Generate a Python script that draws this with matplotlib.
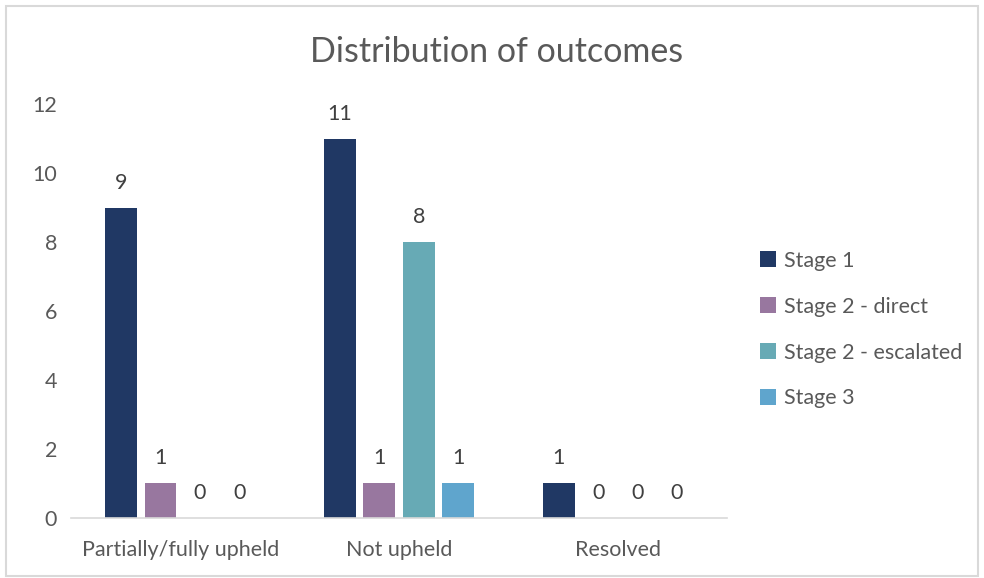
import numpy as np
import matplotlib.pyplot as plt
from matplotlib.patches import Rectangle

plt.rcParams['font.family'] = ['Lato', 'DejaVu Sans']

categories = ['Partially/fully upheld', 'Not upheld', 'Resolved']
series = ['Stage 1', 'Stage 2 - direct', 'Stage 2 - escalated', 'Stage 3']
stage1 = [9, 11, 1]
stage2_direct = [1, 1, 0]
stage2_escalated = [0, 8, 0]
stage3 = [0, 1, 0]
values = [stage1, stage2_direct, stage2_escalated, stage3]
colors = ['#203864', '#98779F', '#67AAB5', '#5FA5CD']

fig = plt.figure(figsize=(9.84, 5.78), dpi=100)
fig.patches.append(Rectangle((0.006, 0.004), 0.988, 0.986, transform=fig.transFigure,
                             fill=False, edgecolor='#D9D9D9', linewidth=1.5))
ax = fig.add_axes([0.072, 0.104, 0.667, 0.716])

x = np.arange(len(categories))
step = 0.18
width = 0.145
for i, (name, vals, c) in enumerate(zip(series, values, colors)):
    pos = x + (i - 1.5) * step
    ax.bar(pos, vals, width, color=c, label=name)
    for p, v in zip(pos, vals):
        ax.annotate(str(v), (p, v), xytext=(0, 18), textcoords='offset points',
                    ha='center', va='center', fontsize=15.5, color='#404040')

ax.set_xlim(-0.5, 2.5)
ax.set_ylim(0, 12)
ax.set_yticks(range(0, 13, 2))
ax.set_xticks(x)
ax.set_xticklabels(categories)
ax.tick_params(axis='both', length=0, labelsize=15.5, labelcolor='#595959')
ax.tick_params(axis='x', pad=16)
ax.tick_params(axis='y', pad=10)
for s in ['top', 'right', 'left']:
    ax.spines[s].set_visible(False)
ax.spines['bottom'].set_color('#D9D9D9')
ax.spines['bottom'].set_linewidth(1.2)

fig.text(0.505, 0.91, 'Distribution of outcomes', ha='center', va='center',
         fontsize=24.5, color='#595959')

ax.legend(loc='center left', bbox_to_anchor=(1.02, 0.455), frameon=False,
          fontsize=15.5, labelcolor='#595959', handlelength=0.75, handleheight=0.75,
          handletextpad=0.4, labelspacing=1.2)

fig.savefig('out.png', dpi=100)
